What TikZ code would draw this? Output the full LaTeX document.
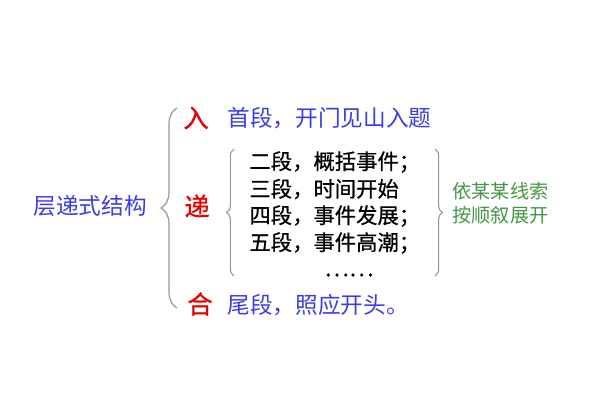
\documentclass[tikz,border=0pt]{standalone}
\usepackage{fontspec}
\setmainfont{Noto Sans CJK SC}
\newfontfamily\thickfont{Noto Sans CJK SC}[FakeBold=0.7]
\usetikzlibrary{decorations.pathreplacing}

\definecolor{txtblue}{RGB}{60,60,230}
\definecolor{txtred}{RGB}{230,0,0}
\definecolor{txtgreen}{RGB}{70,150,70}
\definecolor{bracegray}{RGB}{150,150,150}

\tikzset{every picture/.style={line width=0.75pt}}
\tikzset{
  bluetext/.style={text=txtblue,font=\fontsize{17pt}{19pt}\selectfont,inner sep=0pt},
  redtext/.style={text=txtred,font=\thickfont\fontsize{19pt}{21pt}\selectfont,inner sep=0pt},
  blacktext/.style={text=black,font=\thickfont\fontsize{16pt}{18pt}\selectfont,inner sep=0pt,anchor=west},
  greentext/.style={text=txtgreen,font=\fontsize{14.4pt}{16pt}\selectfont,inner sep=0pt,anchor=west},
  bigbrace/.style={draw=bracegray,line width=0.9pt,decorate,decoration={brace,amplitude=12pt}},
  smallbrace/.style={draw=bracegray,line width=0.8pt,decorate,decoration={brace,amplitude=5.5pt}}
}

\begin{document}
\begin{tikzpicture}[x=0.75pt,y=0.75pt,yscale=-1,xscale=1]
\useasboundingbox (0,0) rectangle (600,400);

% Title
\node[bluetext] (title) at (90,206) {层递式结构};

% Big brace
\coordinate (bigtop) at (177,108);
\coordinate (bigbot) at (177,308);
\draw[bigbrace] (bigbot) -- (bigtop);

% Three parts
\node[redtext] (ru) at (196,118) {入};
\node[redtext] (di) at (197,206) {递};
\node[redtext] (he) at (200,304) {合};

\node[bluetext,anchor=west] (shou) at (227,118) {首段，开门见山入题};
\node[bluetext,anchor=west] (wei) at (227,305) {尾段，照应开头。};

% Inner braces
\coordinate (intop) at (234,149);
\coordinate (inbot) at (234,276);
\draw[smallbrace] (inbot) -- (intop);
\coordinate (outtop) at (435,149);
\coordinate (outbot) at (435,276);
\draw[smallbrace] (outtop) -- (outbot);

% Middle paragraphs
\node[blacktext] (er) at (249,162) {二段，概括事件；};
\node[blacktext] (san) at (249,189) {三段，时间开始};
\node[blacktext] (si) at (249,216) {四段，事件发展；};
\node[blacktext] (wu) at (249,243) {五段，事件高潮；};
\node[text=black,inner sep=0pt,font=\thickfont\fontsize{17.5pt}{19pt}\selectfont] (dots) at (349,275) {……};

% Side note
\node[greentext] (yi) at (452,191) {依某某线索};
\node[greentext] (an) at (452,215) {按顺叙展开};

\end{tikzpicture}
\end{document}
